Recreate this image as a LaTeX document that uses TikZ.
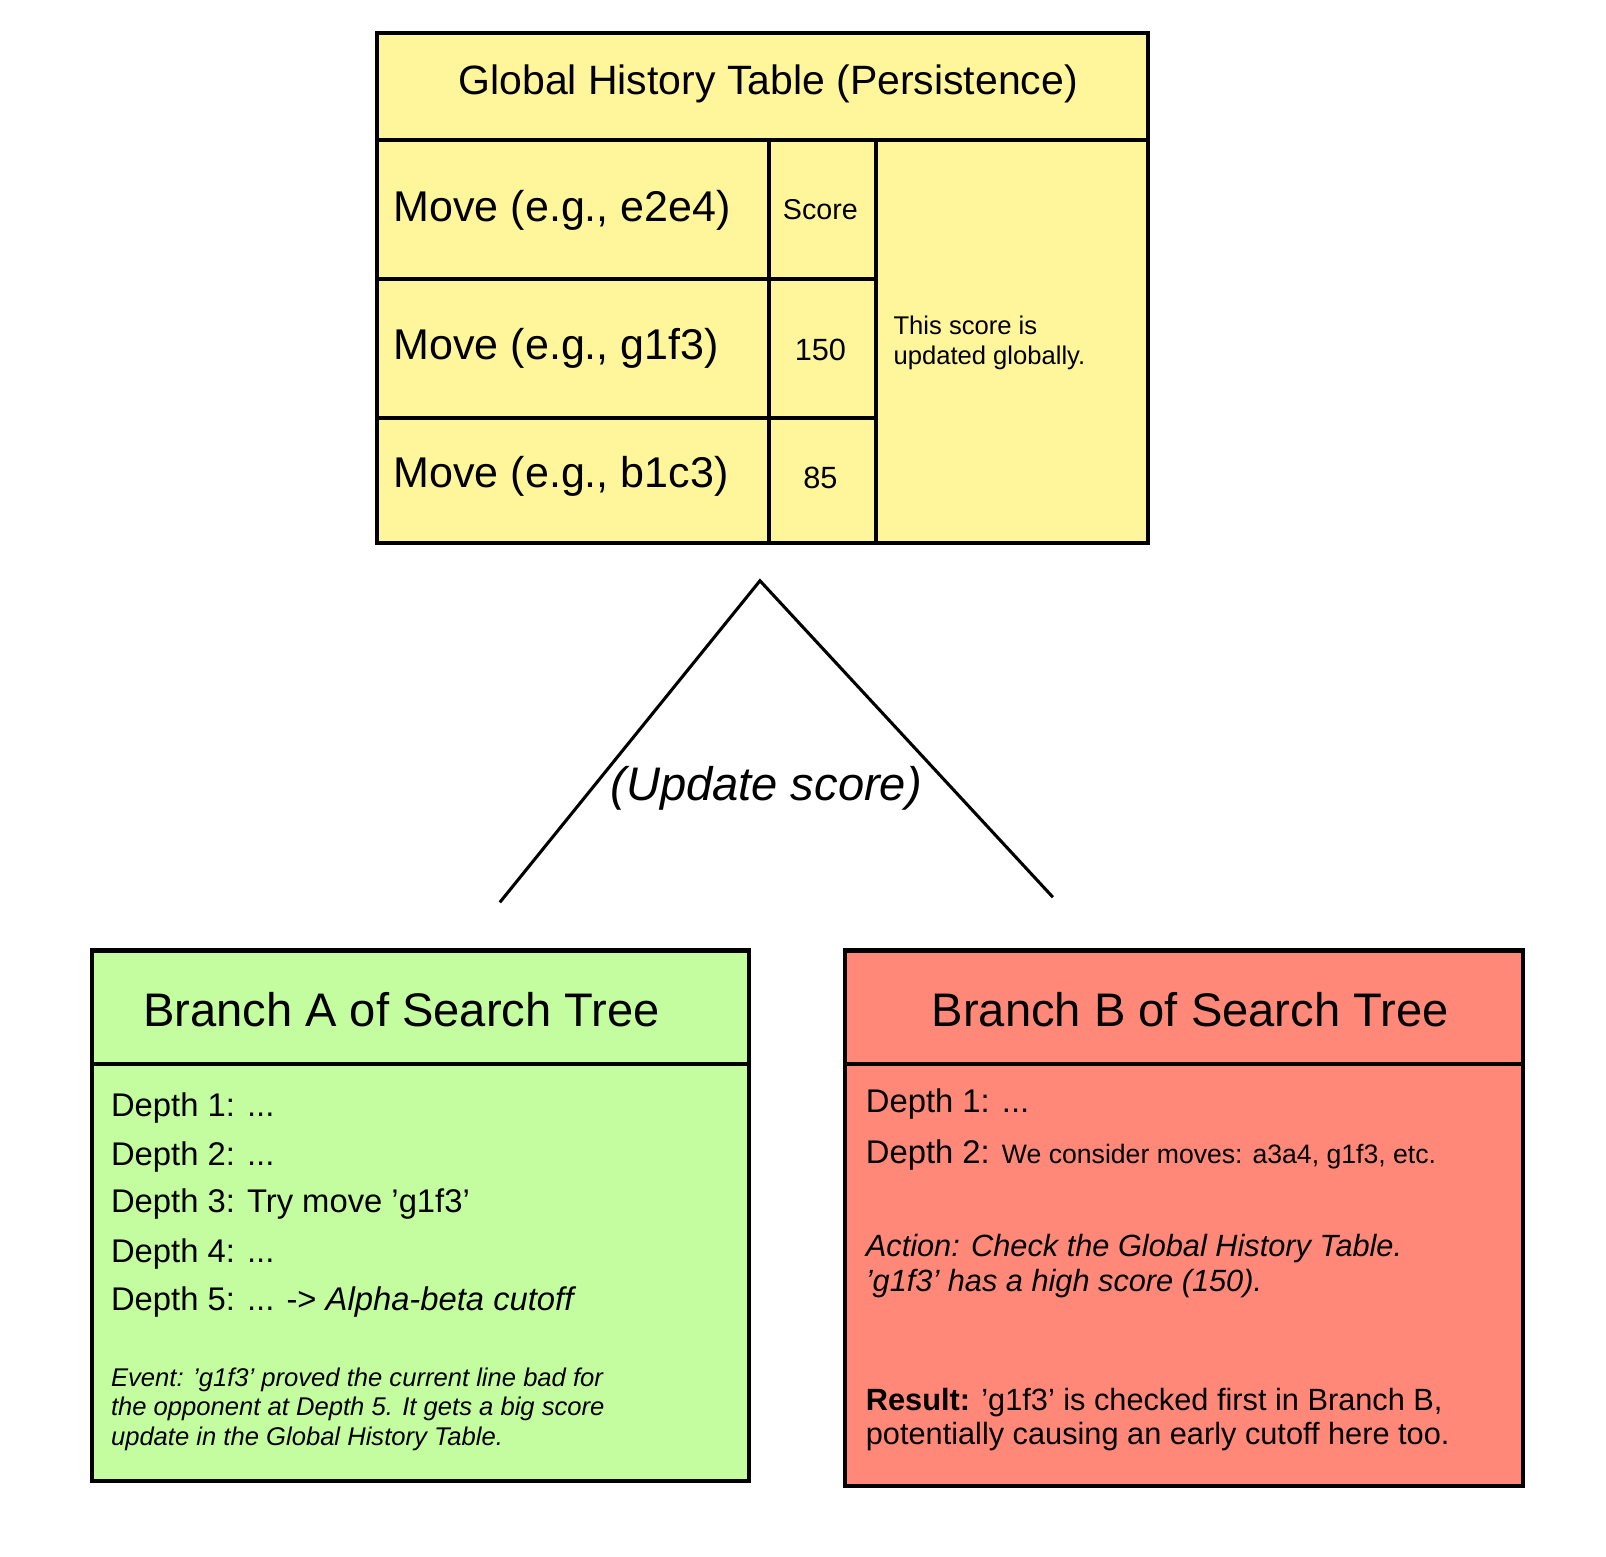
\documentclass[tikz,border=0pt]{standalone}
\usepackage{fontspec}
\setmainfont{Liberation Sans}
\newcommand{\fs}[1]{\fontsize{#1}{#1}\selectfont}
\newcommand{\q}{\char"27\relax}
\definecolor{tabY}{HTML}{FFF59A}
\definecolor{grA}{HTML}{C4FCA0}
\definecolor{rdB}{HTML}{FF8878}
\begin{document}
\begin{tikzpicture}[x=0.5pt,y=-0.5pt,
  bx/.style={draw=black,line width=2pt},
  lbl/.style={inner sep=0pt,anchor=west},
  cl/.style={inner sep=0pt}]
\useasboundingbox (0,0) rectangle (1568,1520);
\fill[white] (0,0) rectangle (1568,1520);
% table
\draw[bx,fill=tabY] (368,32) rectangle (1121,530);
\draw[bx] (368,137) -- (1121,137);
\draw[bx] (751,137) -- (751,530);
\draw[bx] (855,137) -- (855,530);
\draw[bx] (368,272) -- (855,272);
\draw[bx] (368,408) -- (855,408);
\node[cl] (title) at (750,82) {\fs{20}Global History Table (Persistence)};
\node[lbl] (m1) at (384,205) {\fs{21}Move (e.g., e2e4)};
\node[lbl] (m2) at (384,340) {\fs{21}Move (e.g., g1f3)};
\node[lbl] (m3) at (384,465) {\fs{21}Move (e.g., b1c3)};
\node[cl] (s0) at (801,205) {\fs{14}Score};
\node[cl] (s1) at (801,342) {\fs{15}150};
\node[cl] (s2) at (801,467) {\fs{15}85};
\node[lbl,align=left,font=\fs{12.5}] (note) at (872,335) {This score is\\[2pt]updated globally.};
% triangle
\coordinate (apex) at (742,567);
\coordinate (la) at (488,881);
\coordinate (lb) at (1028,876);
\draw[line width=1.5pt] (la) -- (apex) -- (lb);
\node[cl] (upd) at (748,770) {\fs{23}\itshape (Update score)};
% branch A
\draw[bx,fill=grA] (90,928) rectangle (731,1446);
\draw[bx] (90,1039) -- (731,1039);
\node[cl] (ta) at (392,986) {\fs{23}Branch A of Search Tree};
\node[lbl] (a1) at (108,1082) {\fs{16}Depth 1: ...};
\node[lbl] (a2) at (108,1130) {\fs{16}Depth 2: ...};
\node[lbl] (a3) at (108,1176) {\fs{16}Depth 3: Try move \q g1f3\q};
\node[lbl] (a4) at (108,1224) {\fs{16}Depth 4: ...};
\node[lbl] (a5) at (108,1271) {\fs{16}Depth 5: ... -> \itshape Alpha-beta cutoff};
\node[lbl,align=left,font=\fs{12.5}\itshape] (ev) at (108,1376) {Event: \q g1f3\q\ proved the current line bad for\\[2pt]the opponent at Depth 5. It gets a big score\\[2pt]update in the Global History Table.};
% branch B
\draw[bx,fill=rdB] (825,928) rectangle (1487,1451);
\draw[bx] (825,1039) -- (1487,1039);
\node[cl] (tb) at (1162,986) {\fs{23}Branch B of Search Tree};
\node[lbl] (b1) at (845,1078) {\fs{16}Depth 1: ...};
\node[lbl] (b2) at (845,1128) {\fs{16}Depth 2: \fs{13}We consider moves: a3a4, g1f3, etc.};
\node[lbl,align=left,font=\fs{15}\itshape] (act) at (845,1236) {Action: Check the Global History Table.\\[2pt]\q g1f3\q\ has a high score (150).};
\node[lbl,align=left,font=\fs{15}] (res) at (845,1386) {\textbf{Result:} \q g1f3\q\ is checked first in Branch B,\\[2pt]potentially causing an early cutoff here too.};
\end{tikzpicture}
\end{document}
